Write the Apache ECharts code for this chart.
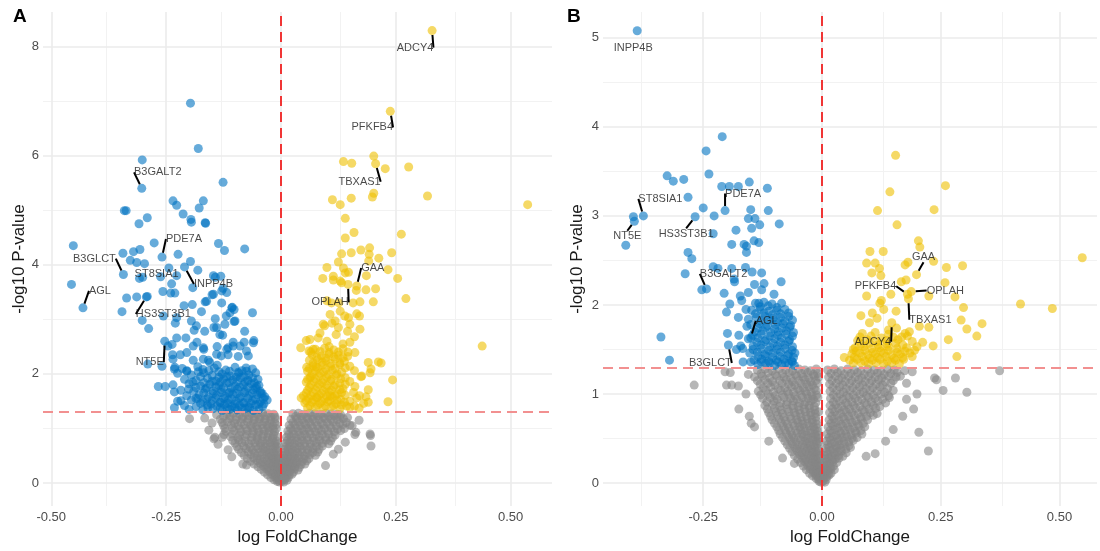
<!DOCTYPE html>
<html><head><meta charset="utf-8">
<script src="https://cdn.jsdelivr.net/npm/echarts@6/dist/echarts.min.js"></script>
<style>html,body{margin:0;padding:0;background:#fff}#c{width:1100px;height:551px}</style>
</head><body><div id="c"></div>
<script>
// ---------- ticks ----------
const xTicksA = [-0.5, -0.25, 0, 0.25, 0.5];
const xMinorA = [-0.375, -0.125, 0.125, 0.375];
const yTicksA = [0, 2, 4, 6, 8];
const yMinorA = [1, 3, 5, 7];
const xTicksB = [-0.25, 0, 0.25, 0.5];
const xMinorB = [-0.375, -0.125, 0.125, 0.375];
const yTicksB = [0, 1, 2, 3, 4, 5];
const yMinorB = [0.5, 1.5, 2.5, 3.5, 4.5];
const pCut = 1.301;   // -log10(0.05)
const fcCut = 0;

// ---------- panel A data ----------
const blueA = [
[-0.197,6.96],[-0.180,6.13],[-0.302,5.92],[-0.303,5.40],[-0.126,5.51],[-0.235,5.17],[-0.169,5.17],[-0.227,5.09],[-0.178,5.04],[-0.341,4.99],[-0.337,4.99],[-0.291,4.86],[-0.213,4.93],[-0.196,4.83],[-0.195,4.78],[-0.165,4.77],[-0.164,4.76],[-0.309,4.75],
[-0.452,4.35],[-0.276,4.40],[-0.259,4.14],[-0.136,4.39],[-0.123,4.26],[-0.079,4.29],[-0.321,4.24],[-0.344,4.21],[-0.307,4.28],[-0.328,4.08],[-0.314,4.04],[-0.297,4.02],[-0.224,4.19],[-0.197,4.06],[-0.210,3.96],[-0.244,3.94],[-0.262,3.78],[-0.227,3.80],[-0.181,3.90],[-0.343,3.82],[-0.308,3.75],[-0.301,3.77],[-0.456,3.64],[-0.431,3.21],[-0.192,3.58],[-0.293,3.41],[-0.253,2.60],
[-0.346,3.14],[-0.336,3.39],[-0.314,3.41],[-0.291,3.42],[-0.302,2.98],[-0.288,2.83],[-0.290,2.18],[-0.267,1.77],[-0.252,1.77],[-0.257,3.51],[-0.240,3.48],[-0.231,3.48],[-0.238,3.65],[-0.256,3.06],[-0.227,3.03],[-0.211,3.25],[-0.193,3.27],[-0.173,3.14],[-0.165,3.32],[-0.150,3.45],[-0.143,3.77],[-0.131,3.79],[-0.126,3.57],[-0.106,3.22],[-0.102,3.18],[-0.062,3.12],[-0.143,3.01],[-0.119,3.06],[-0.102,2.96],[-0.230,2.93],[-0.189,2.80],[-0.146,2.85],[-0.127,2.71],[-0.079,2.78],[-0.059,2.61],[-0.237,2.54],[-0.207,2.66],[-0.183,2.58],[-0.168,2.45],[-0.139,2.50],[-0.115,2.48],[-0.104,2.58],[-0.080,2.58],[-0.236,2.35],[-0.219,2.35],[-0.191,2.25],[-0.158,2.25],[-0.130,2.33],[-0.115,2.35],[-0.093,2.32],[-0.259,2.14],[-0.232,2.09],[-0.205,2.06],[-0.181,2.13],[-0.139,2.16],[-0.076,2.11],[-0.232,1.67],[-0.218,1.51],[-0.201,1.72],[-0.181,1.55],[-0.232,1.38],[-0.159,1.38],[-0.037,1.45],[-0.041,1.64],[-0.053,1.77],
[-0.246,2.51],[-0.227,2.66],[-0.235,2.27],[-0.231,2.12],[-0.205,2.39],[-0.191,2.51],[-0.169,2.48],[-0.162,3.33],[-0.147,3.46],[-0.129,3.52],[-0.147,3.80],[-0.118,3.49],[-0.129,3.30],[-0.107,3.21],[-0.111,3.12],[-0.100,2.97],[-0.122,2.91],[-0.140,2.85],[-0.133,2.72],[-0.169,2.27],[-0.155,2.21],[-0.140,2.36],[-0.118,2.45],[-0.104,2.51],[-0.089,2.51],[-0.075,2.42],[-0.060,2.57],[-0.071,2.33],[-0.166,2.78],[-0.184,2.88],[-0.195,2.97],
[-0.215,2.10],[-0.170,2.08],[-0.145,2.11],[-0.120,2.07],[-0.100,2.12],[-0.085,2.06],[-0.062,2.09],
[-0.225,2.01],[-0.195,1.98],[-0.168,2.02],[-0.150,1.97],[-0.128,2.00],[-0.110,1.96],[-0.092,2.01],[-0.070,1.98],[-0.055,2.02],
[-0.210,1.90],[-0.185,1.88],[-0.160,1.92],[-0.142,1.87],[-0.125,1.91],[-0.105,1.89],[-0.088,1.93],[-0.072,1.88],[-0.050,1.90],
[-0.235,1.80],[-0.200,1.82],[-0.175,1.78],[-0.155,1.81],[-0.135,1.79],[-0.118,1.83],[-0.100,1.78],[-0.082,1.80],[-0.065,1.82],[-0.048,1.79],
[-0.218,1.70],[-0.190,1.68],[-0.165,1.72],[-0.148,1.69],[-0.130,1.71],[-0.112,1.67],[-0.095,1.72],[-0.078,1.69],[-0.060,1.71],[-0.045,1.68],
[-0.205,1.60],[-0.178,1.62],[-0.158,1.58],[-0.140,1.61],[-0.122,1.59],[-0.105,1.63],[-0.088,1.58],[-0.070,1.60],[-0.052,1.62],[-0.035,1.58],
[-0.225,1.50],[-0.195,1.52],[-0.170,1.49],[-0.150,1.51],[-0.132,1.48],[-0.115,1.52],[-0.098,1.50],[-0.080,1.47],[-0.062,1.51],[-0.045,1.49],[-0.030,1.52],
[-0.210,1.42],[-0.185,1.40],[-0.160,1.43],[-0.140,1.41],[-0.123,1.44],[-0.107,1.40],[-0.090,1.42],[-0.072,1.39],[-0.055,1.43],[-0.040,1.40],
[-0.200,1.35],[-0.170,1.34],[-0.148,1.36],[-0.128,1.33],[-0.112,1.35],[-0.095,1.34],[-0.078,1.36],[-0.060,1.33],[-0.048,1.35]
];
const blueAFill = [
[-0.205,2.05],[-0.180,2.04],[-0.157,2.06],[-0.135,2.04],[-0.112,2.05],[-0.093,2.03],[-0.075,2.05],
[-0.175,1.95],[-0.135,1.94],[-0.118,1.95],[-0.098,1.94],[-0.080,1.95],[-0.062,1.93],
[-0.192,1.85],[-0.168,1.84],[-0.150,1.86],[-0.132,1.85],[-0.113,1.84],[-0.095,1.86],[-0.078,1.85],[-0.058,1.84],
[-0.185,1.75],[-0.162,1.74],[-0.142,1.76],[-0.125,1.75],[-0.108,1.74],[-0.090,1.76],[-0.072,1.75],[-0.055,1.74],
[-0.168,1.65],[-0.148,1.64],[-0.130,1.66],[-0.113,1.65],[-0.096,1.64],[-0.079,1.66],[-0.062,1.65],[-0.044,1.64],
[-0.185,1.55],[-0.162,1.54],[-0.142,1.56],[-0.124,1.55],[-0.107,1.54],[-0.090,1.56],[-0.072,1.55],[-0.055,1.54],[-0.038,1.55],
[-0.175,1.46],[-0.152,1.45],[-0.133,1.47],[-0.116,1.46],[-0.100,1.45],[-0.082,1.47],[-0.065,1.46],[-0.048,1.45],
[-0.132,1.38],[-0.117,1.37],[-0.100,1.38],[-0.085,1.37],[-0.068,1.38]
];
const yellowA = [
[0.329,8.29],[0.238,6.81],[0.202,5.99],[0.136,5.89],[0.154,5.86],[0.206,5.85],[0.227,5.76],[0.278,5.79],[0.319,5.26],[0.202,5.31],[0.199,5.24],[0.112,5.19],[0.129,5.10],[0.153,5.22],[0.537,5.10],[0.140,4.85],[0.159,4.59],[0.140,4.49],[0.262,4.56],[0.153,4.22],[0.132,4.20],[0.174,4.27],[0.193,4.31],[0.213,4.12],[0.241,4.22],[0.125,4.05],[0.100,3.95],[0.140,3.85],[0.147,3.86],[0.191,4.07],[0.233,3.91],[0.165,3.61],[0.146,3.64],[0.091,3.75],[0.114,3.72],[0.132,3.67],[0.186,3.80],[0.254,3.75],[0.164,3.53],[0.185,3.54],[0.206,3.56],[0.272,3.38],[0.100,3.34],[0.126,3.30],[0.157,3.30],[0.172,3.32],[0.201,3.32],[0.165,3.10],[0.111,2.93],[0.147,3.03],[0.438,2.51],[0.212,2.22],[0.218,2.20],[0.243,1.89],[0.196,2.09],[0.174,1.95],[0.190,1.71],[0.233,1.49],[0.160,2.06],[0.161,1.77],[0.185,1.58],[0.146,2.40],[0.150,2.58],[0.043,2.48],[0.055,2.61],[0.061,2.42],[0.076,2.13],[0.044,1.56],
[0.192,4.19],[0.136,3.94],[0.114,3.79],[0.129,3.70],[0.110,3.30],[0.129,3.15],[0.107,3.09],[0.139,3.06],[0.118,2.97],[0.092,2.91],[0.150,2.91],[0.171,3.06],[0.172,2.82],[0.063,2.63],[0.081,2.66],[0.070,2.45],[0.161,2.39],[0.150,2.14],[0.190,2.21],[0.194,2.02],[0.176,1.96],[0.190,1.48],[0.171,1.60],[0.056,2.12],[0.063,1.93],[0.049,1.60],[0.078,1.57],[0.107,1.60],[0.132,1.66],[0.143,1.41],
[0.085,2.75],[0.100,2.60],[0.120,2.72],[0.135,2.55],[0.095,2.88],[0.145,2.78],[0.160,2.68],[0.125,2.85],[0.105,2.50],
[0.075,2.45],[0.095,2.47],[0.115,2.44],[0.135,2.46],
[0.068,2.35],[0.088,2.33],[0.105,2.36],[0.125,2.34],[0.145,2.32],
[0.062,2.25],[0.080,2.26],[0.098,2.24],[0.118,2.27],[0.138,2.23],
[0.070,2.15],[0.090,2.16],[0.108,2.14],[0.128,2.17],
[0.058,2.05],[0.075,2.06],[0.093,2.04],[0.112,2.07],[0.132,2.03],
[0.065,1.95],[0.083,1.96],[0.100,1.94],[0.120,1.97],[0.140,1.93],
[0.055,1.85],[0.072,1.86],[0.090,1.84],[0.108,1.87],[0.128,1.83],[0.150,1.86],
[0.062,1.75],[0.080,1.76],[0.098,1.74],[0.115,1.77],[0.135,1.73],
[0.055,1.65],[0.070,1.66],[0.088,1.64],[0.105,1.67],[0.122,1.63],[0.158,1.66],
[0.060,1.55],[0.078,1.56],[0.095,1.54],[0.112,1.57],[0.130,1.53],[0.165,1.56],
[0.052,1.47],[0.068,1.48],[0.085,1.46],[0.102,1.49],[0.120,1.45],[0.138,1.48],[0.180,1.46],
[0.058,1.38],[0.075,1.39],[0.092,1.37],[0.110,1.40],[0.128,1.36],[0.150,1.39],[0.170,1.37]
];
const yellowAFill = [
[0.065,2.40],[0.085,2.41],[0.105,2.39],[0.125,2.40],
[0.078,2.30],[0.097,2.29],[0.115,2.31],[0.135,2.30],
[0.070,2.20],[0.090,2.21],[0.108,2.19],[0.128,2.20],
[0.062,2.10],[0.080,2.11],[0.098,2.09],[0.118,2.10],[0.140,2.11],
[0.068,2.00],[0.085,2.01],[0.103,1.99],[0.122,2.00],
[0.058,1.90],[0.075,1.91],[0.092,1.89],[0.110,1.90],[0.130,1.91],
[0.065,1.80],[0.083,1.81],[0.100,1.79],[0.118,1.80],[0.140,1.81],
[0.058,1.70],[0.075,1.71],[0.092,1.69],[0.110,1.70],[0.128,1.71],
[0.065,1.60],[0.083,1.61],[0.100,1.59],[0.118,1.60],[0.140,1.61],
[0.055,1.51],[0.070,1.52],[0.088,1.50],[0.105,1.51],[0.122,1.52],[0.150,1.50],
[0.063,1.42],[0.080,1.43],[0.097,1.41],[0.115,1.42],[0.132,1.43],[0.160,1.41]
];
const greyA = [
[-0.118,1.27],[-0.104,1.28],[-0.090,1.26],[-0.077,1.28],[-0.064,1.27],[-0.052,1.26],[-0.040,1.28],[-0.028,1.27],[-0.016,1.26],
[-0.132,1.17],[-0.112,1.18],[-0.098,1.16],[-0.084,1.18],[-0.071,1.17],[-0.058,1.16],[-0.046,1.18],[-0.034,1.17],[-0.022,1.16],[-0.012,1.18],
[-0.125,1.06],[-0.108,1.07],[-0.093,1.05],[-0.080,1.07],[-0.066,1.06],[-0.053,1.05],[-0.041,1.07],[-0.030,1.06],[-0.018,1.05],[-0.010,1.07],
[-0.120,0.95],[-0.102,0.96],[-0.087,0.94],[-0.073,0.96],[-0.060,0.95],[-0.048,0.94],[-0.036,0.96],[-0.025,0.95],[-0.014,0.94],
[-0.128,0.84],[-0.110,0.85],[-0.094,0.83],[-0.078,0.85],[-0.064,0.84],[-0.052,0.83],[-0.040,0.85],[-0.029,0.84],[-0.018,0.83],[-0.009,0.85],
[-0.100,0.73],[-0.085,0.74],[-0.070,0.72],[-0.057,0.74],[-0.045,0.73],[-0.034,0.72],[-0.024,0.74],[-0.014,0.73],[-0.007,0.72],
[-0.092,0.62],[-0.076,0.63],[-0.062,0.61],[-0.050,0.63],[-0.039,0.62],[-0.028,0.61],[-0.018,0.63],[-0.010,0.62],
[-0.080,0.51],[-0.065,0.52],[-0.052,0.50],[-0.041,0.52],[-0.030,0.51],[-0.021,0.50],[-0.012,0.52],[-0.006,0.51],
[-0.066,0.40],[-0.052,0.41],[-0.040,0.39],[-0.030,0.41],[-0.021,0.40],[-0.013,0.39],[-0.006,0.41],
[-0.050,0.30],[-0.038,0.31],[-0.028,0.29],[-0.019,0.31],[-0.011,0.30],[-0.005,0.29],
[-0.036,0.20],[-0.025,0.21],[-0.016,0.19],[-0.009,0.21],[-0.004,0.20],
[-0.022,0.10],[-0.013,0.11],[-0.006,0.09],[-0.002,0.10],[-0.008,0.03],[-0.003,0.02],
[-0.199,1.18],[-0.166,1.19],[-0.157,0.97],[-0.144,0.84],[-0.137,0.71],[-0.107,0.48],[-0.083,0.35],[-0.075,0.33],[-0.146,0.81],[-0.115,0.61],[-0.150,1.10],[-0.140,1.25],
[0.026,1.27],[0.038,1.28],[0.050,1.26],[0.062,1.28],[0.074,1.27],[0.086,1.26],[0.098,1.28],[0.110,1.27],[0.122,1.26],
[0.022,1.17],[0.034,1.18],[0.046,1.16],[0.058,1.18],[0.070,1.17],[0.083,1.16],[0.096,1.18],[0.109,1.17],[0.122,1.16],[0.136,1.18],
[0.018,1.06],[0.030,1.07],[0.042,1.05],[0.054,1.07],[0.066,1.06],[0.079,1.05],[0.092,1.07],[0.106,1.06],[0.120,1.05],[0.135,1.07],[0.150,1.06],
[0.015,0.95],[0.026,0.96],[0.038,0.94],[0.050,0.96],[0.062,0.95],[0.075,0.94],[0.088,0.96],[0.102,0.95],[0.116,0.94],[0.130,0.96],
[0.012,0.84],[0.022,0.85],[0.033,0.83],[0.045,0.85],[0.057,0.84],[0.070,0.83],[0.083,0.85],[0.097,0.84],[0.112,0.83],
[0.010,0.73],[0.019,0.74],[0.029,0.72],[0.040,0.74],[0.052,0.73],[0.064,0.72],[0.077,0.74],[0.090,0.73],[0.104,0.72],
[0.008,0.62],[0.016,0.63],[0.025,0.61],[0.035,0.63],[0.046,0.62],[0.058,0.61],[0.070,0.63],[0.083,0.62],
[0.006,0.51],[0.013,0.52],[0.021,0.50],[0.030,0.52],[0.040,0.51],[0.051,0.50],[0.063,0.52],[0.075,0.51],
[0.005,0.40],[0.011,0.41],[0.018,0.39],[0.026,0.41],[0.035,0.40],[0.045,0.39],[0.056,0.41],
[0.003,0.30],[0.009,0.31],[0.015,0.29],[0.022,0.31],[0.030,0.30],[0.040,0.29],
[0.002,0.20],[0.007,0.21],[0.012,0.19],[0.019,0.21],[0.027,0.20],
[0.001,0.10],[0.005,0.11],[0.010,0.09],[0.016,0.10],[0.002,0.03],[0.006,0.02],
[0.163,0.93],[0.194,0.90],[0.196,0.68],[0.195,0.87],[0.161,0.89],[0.145,1.20],[0.130,1.25],[0.097,0.32],[0.114,0.53],[0.140,0.75],[0.125,0.62],[0.155,1.05],[0.170,1.15]
];
const greyAFill = [
[-0.125,1.22],[-0.111,1.23],[-0.097,1.21],[-0.083,1.22],[-0.070,1.23],[-0.058,1.21],[-0.046,1.22],[-0.034,1.23],[-0.022,1.21],[-0.013,1.22],
[-0.128,1.11],[-0.116,1.12],[-0.101,1.10],[-0.087,1.11],[-0.073,1.12],[-0.060,1.10],[-0.048,1.11],[-0.036,1.12],[-0.024,1.10],[-0.014,1.11],
[-0.122,1.00],[-0.105,1.01],[-0.090,0.99],[-0.076,1.00],[-0.063,1.01],[-0.051,0.99],[-0.039,1.00],[-0.028,1.01],[-0.017,0.99],[-0.010,1.00],
[-0.124,0.89],[-0.106,0.90],[-0.090,0.88],[-0.075,0.89],[-0.062,0.90],[-0.050,0.88],[-0.038,0.89],[-0.027,0.90],[-0.016,0.88],
[-0.105,0.78],[-0.092,0.79],[-0.078,0.77],[-0.064,0.78],[-0.051,0.79],[-0.040,0.77],[-0.029,0.78],[-0.019,0.79],[-0.010,0.77],
[-0.096,0.67],[-0.081,0.68],[-0.067,0.66],[-0.055,0.67],[-0.044,0.68],[-0.033,0.66],[-0.023,0.67],[-0.014,0.68],[-0.008,0.66],
[-0.086,0.56],[-0.071,0.57],[-0.058,0.55],[-0.046,0.56],[-0.035,0.57],[-0.025,0.55],[-0.016,0.56],[-0.009,0.57],
[-0.073,0.45],[-0.059,0.46],[-0.046,0.44],[-0.036,0.45],[-0.026,0.46],[-0.017,0.44],[-0.010,0.45],[-0.004,0.46],
[-0.058,0.35],[-0.045,0.36],[-0.034,0.34],[-0.025,0.35],[-0.016,0.36],[-0.009,0.34],[-0.004,0.35],
[-0.043,0.25],[-0.031,0.26],[-0.021,0.24],[-0.013,0.25],[-0.007,0.26],[-0.002,0.24],
[-0.029,0.15],[-0.019,0.16],[-0.011,0.14],[-0.005,0.15],[-0.001,0.16],
[-0.015,0.06],[-0.008,0.07],[-0.003,0.05],
[0.032,1.22],[0.044,1.23],[0.056,1.21],[0.068,1.22],[0.080,1.23],[0.092,1.21],[0.104,1.22],[0.116,1.23],[0.128,1.21],
[0.026,1.11],[0.038,1.12],[0.050,1.10],[0.062,1.11],[0.075,1.12],[0.088,1.10],[0.101,1.11],[0.114,1.12],[0.128,1.10],[0.142,1.11],
[0.021,1.00],[0.033,1.01],[0.045,0.99],[0.057,1.00],[0.069,1.01],[0.082,0.99],[0.095,1.00],[0.109,1.01],[0.123,0.99],[0.138,1.00],
[0.017,0.89],[0.028,0.90],[0.040,0.88],[0.052,0.89],[0.064,0.90],[0.077,0.88],[0.090,0.89],[0.104,0.90],[0.118,0.88],
[0.014,0.78],[0.024,0.79],[0.035,0.77],[0.046,0.78],[0.058,0.79],[0.071,0.77],[0.084,0.78],[0.098,0.79],[0.108,0.77],
[0.011,0.67],[0.020,0.68],[0.030,0.66],[0.041,0.67],[0.052,0.68],[0.064,0.66],[0.077,0.67],[0.090,0.68],
[0.009,0.56],[0.017,0.57],[0.026,0.55],[0.036,0.56],[0.046,0.57],[0.057,0.55],[0.069,0.56],[0.080,0.57],
[0.007,0.45],[0.014,0.46],[0.022,0.44],[0.031,0.45],[0.040,0.46],[0.050,0.44],[0.061,0.45],
[0.005,0.35],[0.011,0.36],[0.018,0.34],[0.026,0.35],[0.034,0.36],[0.044,0.34],[0.052,0.35],
[0.004,0.25],[0.009,0.26],[0.015,0.24],[0.022,0.25],[0.030,0.26],[0.037,0.24],
[0.002,0.15],[0.007,0.16],[0.012,0.14],[0.018,0.15],[0.024,0.16],
[0.003,0.06],[0.008,0.07],[0.013,0.05]
];
const genesA = [['ADCY4',0.329,8.29],['PFKFB4',0.238,6.81],['TBXAS1',0.206,5.85],['B3GALT2',-0.303,5.40],['PDE7A',-0.259,4.14],['B3GLCT',-0.343,3.82],['ST8SIA1',-0.262,3.78],['INPP4B',-0.210,3.96],['AGL',-0.431,3.21],['HS3ST3B1',-0.293,3.41],['NT5E',-0.253,2.60],['GAA',0.165,3.61],['OPLAH',0.146,3.64]];

// ---------- panel B data ----------
const blueB = [
[-0.389,5.08],[-0.210,3.89],[-0.244,3.73],[-0.238,3.47],[-0.326,3.45],[-0.313,3.39],[-0.291,3.41],[-0.211,3.33],[-0.195,3.33],[-0.176,3.33],[-0.153,3.38],[-0.115,3.31],[-0.282,3.21],[-0.250,3.09],[-0.204,3.06],[-0.150,3.07],[-0.113,3.06],[-0.376,3.00],[-0.397,2.99],[-0.395,2.94],[-0.267,2.99],[-0.227,3.00],[-0.155,2.97],[-0.141,2.97],[-0.148,2.86],[-0.131,2.90],[-0.090,2.91],[-0.181,2.84],[-0.229,2.80],[-0.413,2.67],[-0.190,2.68],[-0.164,2.68],[-0.159,2.66],[-0.143,2.72],[-0.133,2.70],[-0.159,2.59],[-0.282,2.59],[-0.274,2.52],[-0.288,2.35],[-0.229,2.43],[-0.219,2.41],[-0.190,2.41],[-0.161,2.42],[-0.147,2.37],[-0.185,2.29],[-0.184,2.26],[-0.127,2.36],[-0.086,2.26],[-0.253,2.17],[-0.243,2.18],[-0.206,2.13],[-0.142,2.23],[-0.122,2.24],[-0.155,2.14],[-0.127,2.17],[-0.101,2.12],[-0.194,2.01],[-0.201,1.92],[-0.169,2.05],[-0.176,1.86],[-0.155,1.84],[-0.133,2.02],[-0.199,1.68],[-0.339,1.64],[-0.197,1.55],[-0.321,1.38],[-0.171,1.54],[-0.167,1.51],[-0.166,1.36],[-0.150,1.63],
[-0.180,1.50],[-0.175,1.66],[-0.158,1.76],[-0.160,1.95],[-0.172,2.10],
[-0.140,2.02],[-0.122,2.03],[-0.105,2.01],[-0.085,2.02],
[-0.148,1.94],[-0.130,1.95],[-0.112,1.93],[-0.095,1.94],[-0.078,1.95],
[-0.138,1.86],[-0.120,1.87],[-0.103,1.85],[-0.087,1.86],[-0.070,1.87],
[-0.150,1.78],[-0.132,1.79],[-0.115,1.77],[-0.098,1.78],[-0.082,1.79],[-0.066,1.77],
[-0.142,1.70],[-0.125,1.71],[-0.108,1.69],[-0.092,1.70],[-0.075,1.71],[-0.060,1.69],
[-0.155,1.62],[-0.135,1.63],[-0.118,1.61],[-0.100,1.62],[-0.085,1.63],[-0.068,1.61],
[-0.145,1.54],[-0.128,1.55],[-0.110,1.53],[-0.094,1.54],[-0.078,1.55],[-0.062,1.53],
[-0.152,1.46],[-0.136,1.47],[-0.120,1.45],[-0.103,1.46],[-0.087,1.47],[-0.070,1.45],[-0.057,1.46],
[-0.143,1.38],[-0.127,1.39],[-0.112,1.37],[-0.096,1.38],[-0.080,1.39],[-0.064,1.37],
[-0.135,1.33],[-0.118,1.34],[-0.100,1.32],[-0.085,1.33],[-0.070,1.34],[-0.058,1.32]
];
const blueBFill = [
[-0.130,1.98],[-0.113,1.99],[-0.095,1.97],
[-0.140,1.90],[-0.122,1.91],[-0.104,1.89],[-0.087,1.90],[-0.070,1.91],
[-0.128,1.82],[-0.111,1.83],[-0.094,1.81],[-0.078,1.82],[-0.062,1.83],
[-0.135,1.74],[-0.118,1.75],[-0.100,1.73],[-0.084,1.74],[-0.068,1.75],
[-0.146,1.66],[-0.128,1.67],[-0.110,1.65],[-0.093,1.66],[-0.076,1.67],[-0.062,1.65],
[-0.137,1.58],[-0.120,1.59],[-0.103,1.57],[-0.087,1.58],[-0.070,1.59],
[-0.145,1.50],[-0.128,1.51],[-0.112,1.49],[-0.095,1.50],[-0.078,1.51],[-0.063,1.49],
[-0.135,1.42],[-0.119,1.43],[-0.104,1.41],[-0.088,1.42],[-0.072,1.43],[-0.060,1.41],
[-0.150,1.36],[-0.128,1.36],[-0.110,1.35],[-0.093,1.36],[-0.077,1.35],[-0.062,1.36]
];
const yellowB = [
[0.155,3.68],[0.260,3.34],[0.143,3.27],[0.117,3.06],[0.236,3.07],[0.158,2.90],[0.203,2.72],[0.206,2.65],[0.101,2.60],[0.129,2.60],[0.094,2.47],[0.112,2.47],[0.121,2.41],[0.105,2.36],[0.124,2.33],[0.181,2.48],[0.175,2.45],[0.235,2.49],[0.262,2.42],[0.296,2.44],[0.548,2.53],[0.199,2.34],[0.167,2.26],[0.177,2.28],[0.259,2.25],[0.180,2.12],[0.188,2.15],[0.182,2.07],[0.145,2.12],[0.125,2.05],[0.122,2.02],[0.094,2.10],[0.225,2.10],[0.280,2.09],[0.418,2.01],[0.485,1.96],[0.298,1.97],[0.082,1.88],[0.106,1.91],[0.156,1.93],[0.116,1.85],[0.147,1.80],[0.157,1.74],[0.205,1.76],[0.225,1.75],[0.293,1.83],[0.305,1.73],[0.337,1.79],[0.326,1.65],[0.266,1.61],[0.234,1.54],[0.212,1.58],[0.184,1.70],[0.168,1.64],[0.284,1.42],[0.047,1.41],[0.066,1.50],
[0.100,1.80],[0.130,1.95],[0.140,1.72],
[0.085,1.68],[0.112,1.69],[0.140,1.67],[0.175,1.68],
[0.075,1.60],[0.095,1.61],[0.115,1.59],[0.135,1.60],[0.160,1.61],[0.190,1.59],
[0.070,1.52],[0.088,1.53],[0.105,1.51],[0.122,1.52],[0.140,1.53],[0.158,1.51],[0.178,1.52],[0.200,1.53],
[0.063,1.45],[0.080,1.46],[0.097,1.44],[0.113,1.45],[0.130,1.46],[0.147,1.44],[0.165,1.45],[0.185,1.46],
[0.058,1.38],[0.074,1.39],[0.090,1.37],[0.106,1.38],[0.122,1.39],[0.138,1.37],[0.155,1.38],[0.172,1.39]
];
const yellowBFill = [
[0.080,1.64],[0.103,1.65],[0.125,1.63],[0.150,1.64],[0.180,1.65],
[0.082,1.56],[0.100,1.57],[0.118,1.55],[0.137,1.56],[0.155,1.57],[0.170,1.55],
[0.072,1.48],[0.090,1.49],[0.107,1.47],[0.124,1.48],[0.140,1.49],[0.158,1.47],[0.175,1.48],[0.195,1.49],
[0.068,1.41],[0.085,1.42],[0.100,1.40],[0.117,1.41],[0.135,1.42],[0.152,1.40],[0.170,1.41],[0.190,1.42],
[0.066,1.35],[0.082,1.35],[0.098,1.34],[0.114,1.35],[0.130,1.34],[0.147,1.35],[0.163,1.34]
];
const greyB = [
[-0.136,1.27],[-0.120,1.28],[-0.105,1.26],[-0.090,1.28],[-0.076,1.27],[-0.062,1.26],[-0.049,1.28],[-0.036,1.27],[-0.024,1.26],[-0.012,1.28],
[-0.142,1.19],[-0.126,1.20],[-0.110,1.18],[-0.095,1.20],[-0.080,1.19],[-0.066,1.18],[-0.053,1.20],[-0.040,1.19],[-0.028,1.18],[-0.016,1.20],[-0.007,1.19],
[-0.130,1.11],[-0.114,1.12],[-0.099,1.10],[-0.084,1.12],[-0.070,1.11],[-0.057,1.10],[-0.044,1.12],[-0.032,1.11],[-0.020,1.10],[-0.010,1.12],
[-0.134,1.03],[-0.118,1.04],[-0.102,1.02],[-0.087,1.04],[-0.073,1.03],[-0.060,1.02],[-0.047,1.04],[-0.035,1.03],[-0.023,1.02],[-0.012,1.04],
[-0.125,0.95],[-0.109,0.96],[-0.094,0.94],[-0.080,0.96],[-0.066,0.95],[-0.053,0.94],[-0.041,0.96],[-0.029,0.95],[-0.018,0.94],[-0.009,0.96],
[-0.120,0.87],[-0.104,0.88],[-0.089,0.86],[-0.075,0.88],[-0.062,0.87],[-0.050,0.86],[-0.038,0.88],[-0.027,0.87],[-0.016,0.86],
[-0.112,0.79],[-0.097,0.80],[-0.083,0.78],[-0.070,0.80],[-0.058,0.79],[-0.046,0.78],[-0.035,0.80],[-0.024,0.79],[-0.014,0.78],[-0.007,0.80],
[-0.105,0.71],[-0.090,0.72],[-0.077,0.70],[-0.065,0.72],[-0.053,0.71],[-0.042,0.70],[-0.031,0.72],[-0.021,0.71],[-0.012,0.70],
[-0.095,0.63],[-0.082,0.64],[-0.070,0.62],[-0.058,0.64],[-0.047,0.63],[-0.037,0.62],[-0.027,0.64],[-0.018,0.63],[-0.010,0.62],
[-0.088,0.55],[-0.075,0.56],[-0.063,0.54],[-0.052,0.56],[-0.042,0.55],[-0.032,0.54],[-0.023,0.56],[-0.015,0.55],[-0.008,0.54],
[-0.078,0.47],[-0.066,0.48],[-0.055,0.46],[-0.045,0.48],[-0.036,0.47],[-0.027,0.46],[-0.019,0.48],[-0.012,0.47],[-0.006,0.46],
[-0.068,0.39],[-0.057,0.40],[-0.047,0.38],[-0.038,0.40],[-0.030,0.39],[-0.022,0.38],[-0.015,0.40],[-0.009,0.39],
[-0.058,0.31],[-0.047,0.32],[-0.038,0.30],[-0.030,0.32],[-0.023,0.31],[-0.016,0.30],[-0.010,0.32],[-0.005,0.31],
[-0.045,0.23],[-0.036,0.24],[-0.028,0.22],[-0.021,0.24],[-0.015,0.23],[-0.009,0.22],[-0.004,0.24],
[-0.033,0.15],[-0.025,0.16],[-0.018,0.14],[-0.012,0.16],[-0.007,0.15],[-0.003,0.14],
[-0.020,0.08],[-0.013,0.09],[-0.008,0.07],[-0.004,0.09],[-0.001,0.08],[-0.006,0.02],[-0.002,0.01],
[-0.269,1.10],[-0.201,1.10],[-0.190,1.10],[-0.176,1.09],[-0.204,1.25],[-0.193,1.24],[-0.175,0.83],[-0.153,0.75],[-0.149,0.67],[-0.142,0.63],[-0.112,0.47],[-0.083,0.28],[-0.058,0.22],[-0.160,1.00],[-0.155,1.22],
[0.012,1.27],[0.026,1.28],[0.040,1.26],[0.054,1.28],[0.068,1.27],[0.082,1.26],[0.096,1.28],[0.110,1.27],[0.124,1.26],[0.138,1.28],[0.152,1.27],
[0.014,1.19],[0.028,1.20],[0.042,1.18],[0.056,1.20],[0.070,1.19],[0.084,1.18],[0.098,1.20],[0.112,1.19],[0.126,1.18],[0.140,1.20],[0.156,1.19],
[0.016,1.11],[0.030,1.12],[0.044,1.10],[0.058,1.12],[0.072,1.11],[0.086,1.10],[0.100,1.12],[0.114,1.11],[0.128,1.10],[0.145,1.12],
[0.017,1.03],[0.031,1.04],[0.045,1.02],[0.059,1.04],[0.073,1.03],[0.087,1.02],[0.101,1.04],[0.116,1.03],[0.132,1.02],[0.150,1.04],
[0.018,0.95],[0.031,0.96],[0.044,0.94],[0.057,0.96],[0.070,0.95],[0.084,0.94],[0.098,0.96],[0.112,0.95],[0.128,0.94],[0.142,0.96],
[0.017,0.87],[0.029,0.88],[0.041,0.86],[0.054,0.88],[0.067,0.87],[0.080,0.86],[0.094,0.88],[0.108,0.87],[0.122,0.86],
[0.016,0.79],[0.027,0.80],[0.039,0.78],[0.051,0.80],[0.063,0.79],[0.076,0.78],[0.089,0.80],[0.102,0.79],[0.116,0.78],
[0.015,0.71],[0.025,0.72],[0.036,0.70],[0.047,0.72],[0.059,0.71],[0.071,0.70],[0.083,0.72],[0.096,0.71],
[0.013,0.63],[0.023,0.64],[0.033,0.62],[0.044,0.64],[0.055,0.63],[0.066,0.62],[0.078,0.64],[0.090,0.63],
[0.011,0.55],[0.020,0.56],[0.030,0.54],[0.040,0.56],[0.050,0.55],[0.061,0.54],[0.072,0.56],[0.084,0.55],
[0.010,0.47],[0.018,0.48],[0.027,0.46],[0.036,0.48],[0.046,0.47],[0.056,0.46],[0.066,0.48],
[0.008,0.39],[0.015,0.40],[0.023,0.38],[0.031,0.40],[0.040,0.39],[0.050,0.38],[0.060,0.40],
[0.006,0.31],[0.012,0.32],[0.019,0.30],[0.027,0.32],[0.035,0.31],[0.044,0.30],
[0.004,0.23],[0.010,0.24],[0.016,0.22],[0.023,0.24],[0.031,0.23],
[0.003,0.15],[0.008,0.16],[0.013,0.14],[0.019,0.16],[0.026,0.15],
[0.001,0.08],[0.005,0.09],[0.010,0.07],[0.015,0.09],[0.002,0.02],[0.006,0.01],
[0.374,1.26],[0.281,1.18],[0.255,1.04],[0.305,1.02],[0.237,1.18],[0.241,1.16],[0.204,0.57],[0.224,0.36],[0.193,0.83],[0.174,1.26],[0.178,1.12],[0.178,0.94],[0.112,0.33],[0.134,0.47],[0.093,0.30],[0.165,1.20],[0.170,0.75],[0.150,0.60],[0.200,1.00],[0.190,1.25]
];
const greyBFill = [
[-0.128,1.23],[-0.113,1.24],[-0.098,1.22],[-0.083,1.23],[-0.069,1.24],[-0.056,1.22],[-0.043,1.23],[-0.030,1.24],[-0.018,1.22],[-0.009,1.23],
[-0.136,1.15],[-0.120,1.16],[-0.104,1.14],[-0.089,1.15],[-0.075,1.16],[-0.062,1.14],[-0.049,1.15],[-0.036,1.16],[-0.024,1.14],[-0.013,1.15],
[-0.124,1.07],[-0.108,1.08],[-0.092,1.06],[-0.078,1.07],[-0.064,1.08],[-0.051,1.06],[-0.039,1.07],[-0.027,1.08],[-0.016,1.06],
[-0.129,0.99],[-0.113,1.00],[-0.098,0.98],[-0.083,0.99],[-0.070,1.00],[-0.057,0.98],[-0.044,0.99],[-0.032,1.00],[-0.021,0.98],[-0.011,0.99],
[-0.116,0.91],[-0.101,0.92],[-0.087,0.90],[-0.073,0.91],[-0.060,0.92],[-0.047,0.90],[-0.035,0.91],[-0.023,0.92],[-0.013,0.90],
[-0.115,0.83],[-0.100,0.84],[-0.086,0.82],[-0.073,0.83],[-0.060,0.84],[-0.048,0.82],[-0.037,0.83],[-0.026,0.84],[-0.015,0.82],
[-0.108,0.75],[-0.094,0.76],[-0.080,0.74],[-0.067,0.75],[-0.055,0.76],[-0.044,0.74],[-0.033,0.75],[-0.023,0.76],[-0.013,0.74],
[-0.100,0.67],[-0.086,0.68],[-0.073,0.66],[-0.061,0.67],[-0.050,0.68],[-0.040,0.66],[-0.030,0.67],[-0.020,0.68],[-0.011,0.66],
[-0.091,0.59],[-0.078,0.60],[-0.066,0.58],[-0.055,0.59],[-0.045,0.60],[-0.035,0.58],[-0.025,0.59],[-0.016,0.60],[-0.009,0.58],
[-0.083,0.51],[-0.070,0.52],[-0.059,0.50],[-0.049,0.51],[-0.039,0.52],[-0.030,0.50],[-0.021,0.51],[-0.013,0.52],[-0.007,0.50],
[-0.073,0.43],[-0.062,0.44],[-0.051,0.42],[-0.041,0.43],[-0.033,0.44],[-0.024,0.42],[-0.017,0.43],[-0.010,0.44],
[-0.063,0.35],[-0.052,0.36],[-0.042,0.34],[-0.034,0.35],[-0.026,0.36],[-0.019,0.34],[-0.012,0.35],[-0.006,0.36],
[-0.051,0.27],[-0.041,0.28],[-0.033,0.26],[-0.025,0.27],[-0.018,0.28],[-0.012,0.26],[-0.006,0.27],
[-0.039,0.19],[-0.030,0.20],[-0.023,0.18],[-0.016,0.19],[-0.010,0.20],[-0.005,0.18],
[-0.026,0.11],[-0.018,0.12],[-0.012,0.10],[-0.007,0.11],[-0.003,0.12],
[-0.012,0.05],[-0.007,0.04],[-0.003,0.05],
[0.019,1.23],[0.033,1.24],[0.047,1.22],[0.061,1.23],[0.075,1.24],[0.089,1.22],[0.103,1.23],[0.117,1.24],[0.131,1.22],[0.145,1.23],[0.158,1.24],
[0.021,1.15],[0.035,1.16],[0.049,1.14],[0.063,1.15],[0.077,1.16],[0.091,1.14],[0.105,1.15],[0.119,1.16],[0.133,1.14],[0.150,1.15],
[0.023,1.07],[0.037,1.08],[0.051,1.06],[0.065,1.07],[0.079,1.08],[0.093,1.06],[0.107,1.07],[0.122,1.08],[0.138,1.06],
[0.024,0.99],[0.038,1.00],[0.052,0.98],[0.066,0.99],[0.080,1.00],[0.094,0.98],[0.108,0.99],[0.124,1.00],[0.140,0.98],
[0.024,0.91],[0.037,0.92],[0.050,0.90],[0.063,0.91],[0.076,0.92],[0.090,0.90],[0.104,0.91],[0.118,0.92],[0.134,0.90],
[0.022,0.83],[0.034,0.84],[0.046,0.82],[0.058,0.83],[0.071,0.84],[0.085,0.82],[0.099,0.83],[0.113,0.84],
[0.021,0.75],[0.032,0.76],[0.044,0.74],[0.056,0.75],[0.068,0.76],[0.081,0.74],[0.094,0.75],[0.108,0.76],
[0.019,0.67],[0.029,0.68],[0.040,0.66],[0.051,0.67],[0.063,0.68],[0.075,0.66],[0.087,0.67],
[0.017,0.59],[0.027,0.60],[0.037,0.58],[0.048,0.59],[0.059,0.60],[0.070,0.58],[0.082,0.59],
[0.015,0.51],[0.024,0.52],[0.033,0.50],[0.043,0.51],[0.053,0.52],[0.063,0.50],[0.074,0.51],
[0.012,0.43],[0.020,0.44],[0.029,0.42],[0.038,0.43],[0.047,0.44],[0.057,0.42],
[0.010,0.35],[0.017,0.36],[0.025,0.34],[0.033,0.35],[0.041,0.36],[0.051,0.34],
[0.008,0.27],[0.014,0.28],[0.021,0.26],[0.028,0.27],[0.036,0.28],
[0.006,0.19],[0.011,0.20],[0.017,0.18],[0.024,0.19],
[0.003,0.11],[0.008,0.12],[0.013,0.10],[0.019,0.11],
[0.004,0.05],[0.009,0.04]
];
const genesB = [['INPP4B',-0.389,5.08],['ST8SIA1',-0.376,3.00],['NT5E',-0.395,2.94],['HS3ST3B1',-0.267,2.99],['PDE7A',-0.204,3.06],['B3GALT2',-0.243,2.18],['AGL',-0.150,1.63],['B3GLCT',-0.197,1.55],['GAA',0.199,2.34],['PFKFB4',0.180,2.12],['OPLAH',0.188,2.15],['TBXAS1',0.182,2.07],['ADCY4',0.147,1.80]];

// ---------- label placement (pixels, style only) ----------
const offA = {ADCY4:[-17,17],PFKFB4:[-18,16],TBXAS1:[-16,18],B3GALT2:[16,-16],PDE7A:[22,-18],B3GLCT:[-29,-16],ST8SIA1:[-4,-3],INPP4B:[29,17],AGL:[17,-17],HS3ST3B1:[17,17],NT5E:[-15,21],GAA:[16,-18],OPLAH:[-18,18]};
const offB = {INPP4B:[-4,17],ST8SIA1:[17,-17],NT5E:[-7,15],HS3ST3B1:[-9,17],PDE7A:[18,-17],B3GALT2:[17,-15],AGL:[16,-17],B3GLCT:[-18,18],GAA:[7,-18],PFKFB4:[-32,-8],OPLAH:[34,-1],TBXAS1:[22,21],ADCY4:[-19,19]};
const noLeader = {A:['ST8SIA1'], B:['INPP4B']};

const FONT = 'Liberation Sans, Arial, sans-serif';
const BLUE = '#0073C2', YEL = '#EFC000', GREY = '#868686';

function gridLines(gi, xs, ys, color, width, z) {
  return {
    type: 'scatter', xAxisIndex: gi, yAxisIndex: gi, data: [], z: z, silent: true,
    markLine: {
      silent: true, symbol: 'none', z: z, animation: false,
      label: {show: false},
      lineStyle: {color: color, width: width, type: 'solid'},
      data: xs.map(v => ({xAxis: v})).concat(ys.map(v => ({yAxis: v})))
    }
  };
}
function cutLines(gi) {
  return {
    type: 'scatter', xAxisIndex: gi, yAxisIndex: gi, data: [], z: 6, silent: true,
    markLine: {
      silent: true, symbol: 'none', z: 6, animation: false, label: {show: false},
      data: [
        {xAxis: fcCut, lineStyle: {color: '#F03535', width: 2, type: [10, 6]}},
        {yAxis: pCut, lineStyle: {color: '#F29090', width: 2, type: [10, 6]}}
      ]
    }
  };
}
function pts(gi, data, color) {
  return {
    type: 'scatter', xAxisIndex: gi, yAxisIndex: gi, data: data, symbolSize: 9, z: 3,
    itemStyle: {color: color, opacity: 0.6}, animation: false, silent: true
  };
}
function genes(gi, list, offs, nol) {
  return {
    type: 'scatter', xAxisIndex: gi, yAxisIndex: gi, z: 7, symbolSize: 9, animation: false, silent: true,
    itemStyle: {color: 'rgba(0,0,0,0)'},
    data: list.map(g => ({name: g[0], value: [g[1], g[2]], labelLine: {show: nol.indexOf(g[0]) < 0}})),
    label: {show: true, position: 'inside', formatter: p => p.name, color: '#1a1a1a', fontSize: 11, fontFamily: FONT},
    labelLine: {show: true, lineStyle: {color: '#000', width: 2}},
    labelLayout: p => { const o = offs[p.text] || [0, 0]; return {dx: o[0], dy: o[1]}; }
  };
}
function xAx(gi, min, max, ticks) {
  return {
    gridIndex: gi, type: 'value', min: min, max: max,
    axisLine: {show: false}, splitLine: {show: false},
    axisTick: {show: false, customValues: ticks},
    axisLabel: {customValues: ticks, formatter: v => v.toFixed(2), color: '#4d4d4d', fontSize: 13, margin: 5, fontFamily: FONT},
    name: 'log FoldChange', nameLocation: 'middle', nameGap: 23,
    nameTextStyle: {fontSize: 17, color: '#1a1a1a', fontFamily: FONT}
  };
}
function yAx(gi, min, max, ticks, gap) {
  return {
    gridIndex: gi, type: 'value', min: min, max: max,
    axisLine: {show: false}, splitLine: {show: false},
    axisTick: {show: false, customValues: ticks},
    axisLabel: {customValues: ticks, formatter: v => String(v), color: '#4d4d4d', fontSize: 13, margin: 4, fontFamily: FONT},
    name: '-log10 P-value', nameLocation: 'middle', nameGap: gap,
    nameTextStyle: {fontSize: 17, color: '#1a1a1a', fontFamily: FONT}
  };
}

const chart = echarts.init(document.getElementById('c'), null, {renderer: 'canvas'});
chart.setOption({
  backgroundColor: '#ffffff',
  animation: false,
  textStyle: {fontFamily: FONT},
  title: [
    {text: 'A', left: 13, top: 7, padding: 0, textStyle: {fontSize: 19, fontWeight: 'bold', color: '#000', fontFamily: FONT}},
    {text: 'B', left: 567, top: 7, padding: 0, textStyle: {fontSize: 19, fontWeight: 'bold', color: '#000', fontFamily: FONT}}
  ],
  grid: [
    {left: 43, top: 12, width: 509, height: 495},
    {left: 603, top: 12, width: 494, height: 495}
  ],
  xAxis: [xAx(0, -0.518, 0.59, xTicksA), xAx(1, -0.461, 0.579, xTicksB)],
  yAxis: [yAx(0, -0.42, 8.63, yTicksA, 13), yAx(1, -0.258, 5.29, yTicksB, 17)],
  series: [
    gridLines(0, xMinorA, yMinorA, '#f2f2f2', 1, 1),
    gridLines(0, xTicksA, yTicksA, '#ebebeb', 1.6, 1),
    gridLines(1, xMinorB, yMinorB, '#f2f2f2', 1, 1),
    gridLines(1, xTicksB, yTicksB, '#ebebeb', 1.6, 1),
    pts(0, greyA.concat(greyAFill), GREY), pts(0, blueA.concat(blueAFill), BLUE), pts(0, yellowA.concat(yellowAFill), YEL),
    pts(1, greyB.concat(greyBFill), GREY), pts(1, blueB.concat(blueBFill), BLUE), pts(1, yellowB.concat(yellowBFill), YEL),
    cutLines(0), cutLines(1),
    genes(0, genesA, offA, noLeader.A), genes(1, genesB, offB, noLeader.B)
  ]
});
</script>
</body></html>
